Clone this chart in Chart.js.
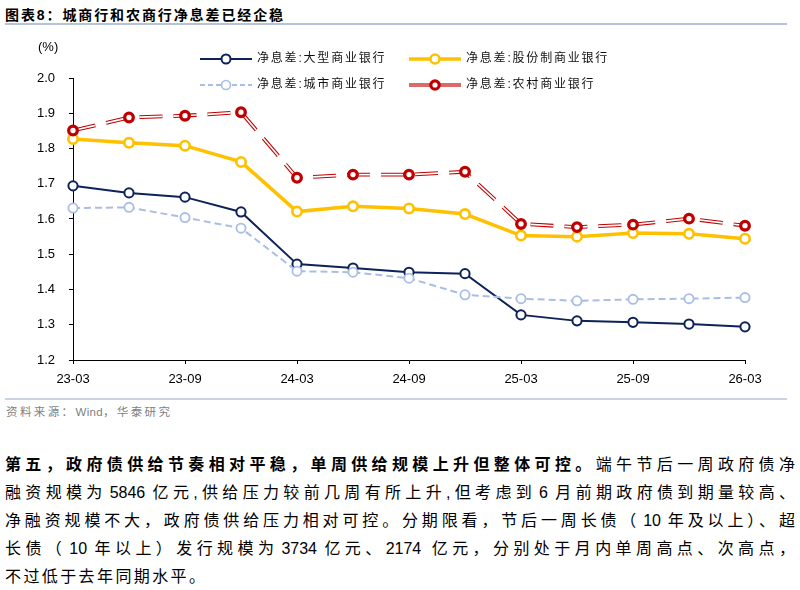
<!DOCTYPE html>
<html>
<head>
<meta charset="utf-8">
<script src="https://cdn.jsdelivr.net/npm/chart.js@4.4.1/dist/chart.umd.min.js"></script>
<style>
body { margin:0; width:800px; height:590px; position:relative; background:#fff; overflow:hidden;
  font-family:"Liberation Sans","Noto Sans CJK SC",sans-serif; color:#000; }
#title { position:absolute; left:5px; top:5px; font-size:14px; line-height:20px; font-weight:bold; letter-spacing:1.9px; white-space:nowrap; }
.rule { position:absolute; left:5px; width:782px; height:2px; background:#b4c2da; }
#chartbox { position:absolute; left:0; top:30px; width:800px; height:370px; }
#unit { position:absolute; left:38px; top:39px; font-size:13px; }
.lg { position:absolute; height:16px; font-size:12px; line-height:16px; letter-spacing:1.8px; white-space:nowrap; color:#111; }
.lg canvas { position:absolute; left:0; top:2px; }
.lg span { position:absolute; left:57px; top:0; }
#source { position:absolute; left:6px; top:403px; font-size:11.5px; letter-spacing:2.4px; color:#7f7f7f; white-space:nowrap; }
#source i { font-style:normal; letter-spacing:0.3px; }
.ln { position:absolute; left:5px; width:790px; font-size:16px; line-height:28px; height:28px; white-space:nowrap;
  text-align:justify; text-align-last:justify; }
.ln.last { text-align-last:left; letter-spacing:2.4px; }
.n { margin:0 3px; }
</style>
</head>
<body>
<div id="title">图表8：城商行和农商行净息差已经企稳</div>
<div class="rule" style="top:23px"></div>
<div id="chartbox"><canvas id="chart" width="800" height="370"></canvas></div>
<div id="unit">(%)</div>
<div id="legend"></div>
<div class="rule" style="top:398px;height:1.5px;background:#c9d3e3"></div>
<div id="source">资料来源：<i>Wind</i>，华泰研究</div>
<div class="ln" style="top:451px"><b>第五，政府债供给节奏相对平稳，单周供给规模上升但整体可控。</b>端午节后一周政府债净</div>
<div class="ln" style="top:479px">融资规模为<span class="n">5846</span>亿元,供给压力较前几周有所上升,但考虑到<span class="n">6</span>月前期政府债到期量较高、</div>
<div class="ln" style="top:507px">净融资规模不大，政府债供给压力相对可控。分期限看，节后一周长债（<span class="n">10</span>年及以上）、超</div>
<div class="ln" style="top:535px">长债（<span class="n">10</span>年以上）发行规模为<span class="n">3734</span>亿元、2174<span class="n"></span>亿元，分别处于月内单周高点、次高点，</div>
<div class="ln last" style="top:563px">不过低于去年同期水平。</div>
<script>
const labels = ['23-03','23-06','23-09','23-12','24-03','24-06','24-09','24-12','25-03','25-06','25-09','25-12','26-03'];
const big_banks = [1.694,1.674,1.662,1.620,1.472,1.461,1.449,1.445,1.328,1.311,1.307,1.302,1.294];
const joint_stock = [1.827,1.816,1.808,1.762,1.621,1.636,1.630,1.614,1.553,1.550,1.560,1.558,1.544];
const city_banks = [1.631,1.633,1.604,1.574,1.452,1.449,1.432,1.385,1.374,1.368,1.372,1.374,1.377];
const rural_banks = [1.851,1.888,1.893,1.903,1.717,1.726,1.726,1.734,1.586,1.577,1.584,1.601,1.581];
const y_ticks = [1.2,1.3,1.4,1.5,1.6,1.7,1.8,1.9,2.0];

const navy = '#0c2259';
const gold = '#ffc000';
const pale = '#a9bde6';
const red = '#c00000';

const legend_items = [
    {name: '净息差:大型商业银行', x: 200, y: 50, kind: 'navy'},
    {name: '净息差:股份制商业银行', x: 409, y: 50, kind: 'gold'},
    {name: '净息差:城市商业银行', x: 200, y: 76, kind: 'pale'},
    {name: '净息差:农村商业银行', x: 409, y: 76, kind: 'red'},
];

// small legend icons: line with a hollow marker in the middle
function legend_icon(kind) {
    const c = document.createElement('canvas');
    c.width = 52; c.height = 14;
    const g = c.getContext('2d');
    const styles = {
        navy: {col: navy, lw: 2, dash: [], r: 4.5, bw: 2},
        gold: {col: gold, lw: 3.5, dash: [], r: 4.5, bw: 2.5},
        pale: {col: pale, lw: 2, dash: [5, 3], r: 4.5, bw: 1.6},
        red: {col: '#dc6a6a', lw: 4, dash: [], r: 4.2, bw: 3.2},
    };
    const s = styles[kind];
    g.strokeStyle = s.col;
    g.lineWidth = s.lw;
    g.setLineDash(s.dash);
    g.beginPath(); g.moveTo(0, 7); g.lineTo(52, 7); g.stroke();
    g.setLineDash([]);
    g.beginPath(); g.arc(26, 7, s.r, 0, Math.PI * 2);
    g.fillStyle = '#fff'; g.fill();
    g.lineWidth = s.bw; g.strokeStyle = kind === 'red' ? red : s.col; g.stroke();
    return c;
}

legend_items.forEach(it => {
    const d = document.createElement('div');
    d.className = 'lg';
    d.style.left = it.x + 'px';
    d.style.top = it.y + 'px';
    d.appendChild(legend_icon(it.kind));
    const t = document.createElement('span');
    t.textContent = it.name;
    d.appendChild(t);
    document.getElementById('legend').appendChild(d);
});

const font = {family: 'Liberation Sans', size: 13};

new Chart(document.getElementById('chart'), {
    type: 'line',
    data: {
        labels: labels,
        datasets: [
            // rural banks: red hollow markers on top, double dashed line below
            {
                label: '净息差:农村商业银行', data: rural_banks, showLine: false,
                pointRadius: 4.3, pointBorderWidth: 3.3, pointBorderColor: red,
                pointBackgroundColor: '#fff', order: 0, clip: false
            },
            {
                label: 'inner', data: rural_banks, borderColor: '#fff', borderWidth: 1.7,
                borderDash: [23, 11], pointRadius: 0, order: 1, clip: false
            },
            {
                label: 'outer', data: rural_banks, borderColor: red, borderWidth: 3.8,
                borderDash: [23, 11], pointRadius: 0, order: 2, clip: false
            },
            {
                label: '净息差:城市商业银行', data: city_banks, borderColor: pale, borderWidth: 2,
                borderDash: [7, 4], pointRadius: 4.6, pointBorderWidth: 1.8,
                pointBorderColor: pale, pointBackgroundColor: '#fff', order: 3, clip: false
            },
            {
                label: '净息差:股份制商业银行', data: joint_stock, borderColor: gold, borderWidth: 3.5,
                pointRadius: 4.7, pointBorderWidth: 2.6,
                pointBorderColor: gold, pointBackgroundColor: '#fff', order: 4, clip: false
            },
            {
                label: '净息差:大型商业银行', data: big_banks, borderColor: navy, borderWidth: 2,
                pointRadius: 4.6, pointBorderWidth: 2,
                pointBorderColor: navy, pointBackgroundColor: '#fff', order: 5, clip: false
            },
        ]
    },
    options: {
        responsive: false,
        animation: false,
        layout: {padding: {top: 48, right: 55, left: 0, bottom: 0}},
        plugins: {legend: {display: false}, tooltip: {enabled: false}},
        elements: {line: {tension: 0}},
        scales: {
            x: {
                afterFit: s => { s.height = 40; },
                border: {color: '#000', width: 1},
                grid: {drawOnChartArea: false, drawTicks: true, tickLength: 4, color: '#000'},
                ticks: {
                    autoSkip: false, maxRotation: 0, padding: 8, color: '#000', font: font,
                    callback: (v, i) => i % 2 === 0 ? labels[i] : null
                }
            },
            y: {
                min: y_ticks[0], max: y_ticks[y_ticks.length - 1],
                afterFit: s => { s.width = 73; },
                afterBuildTicks: s => { s.ticks = y_ticks.map(v => ({value: v})); },
                border: {color: '#000', width: 1},
                grid: {drawOnChartArea: false, drawTicks: true, tickLength: 4, color: '#000'},
                ticks: {padding: 14, color: '#000', font: font, callback: v => v.toFixed(1)}
            }
        }
    }
});
</script>
</body>
</html>
